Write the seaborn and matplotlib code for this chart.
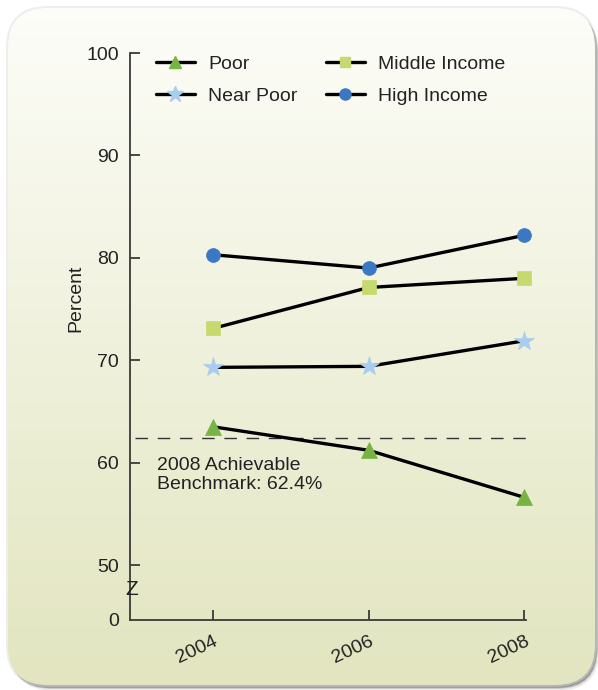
import numpy as np
import pandas as pd
import matplotlib
matplotlib.use("Agg")
import matplotlib.pyplot as plt
from matplotlib.patches import FancyBboxPatch
from matplotlib.lines import Line2D
import seaborn as sns

# ---- data -------------------------------------------------------------
years = [2004, 2006, 2008]
poor = [63.5, 61.2, 56.6]
near_poor = [69.3, 69.4, 71.9]
middle_income = [73.1, 77.1, 78.0]
high_income = [80.3, 79.0, 82.2]
series_names = ["Poor", "Near Poor", "Middle Income", "High Income"]
benchmark = 62.4
benchmark_label = "2008 Achievable\nBenchmark: 62.4%"
y_ticks = [50, 60, 70, 80, 90, 100]
x_ticks = [2004, 2006, 2008]

# ---- styles -----------------------------------------------------------
styles = {
    "Poor": dict(marker="^", color="#78b443", ms=11),
    "Near Poor": dict(marker="*", color="#a9cdee", ms=15),
    "Middle Income": dict(marker="s", color="#c6d96e", ms=9.5),
    "High Income": dict(marker="o", color="#3b78c4", ms=10),
}
FS = 14

frames = []
for name, vals in zip(series_names, [poor, near_poor, middle_income, high_income]):
    frames.append(pd.DataFrame({"year": years, "pct": vals, "group": name}))
df = pd.concat(frames, ignore_index=True)

sns.set_theme(style="white")
plt.rcParams["font.family"] = ["Liberation Sans", "DejaVu Sans"]
plt.rcParams["text.color"] = "#222222"

W, H = 598, 690
fig = plt.figure(figsize=(W / 100, H / 100), dpi=100, facecolor="white")

# ---- rounded panel with gradient and drop shadow ----------------------
bg = fig.add_axes([0, 0, 1, 1], zorder=0)
bg.set_xlim(0, W)
bg.set_ylim(H, 0)
bg.axis("off")

px0, py0, px1, py1, rad = 8, 8, 595, 685, 40
for off, alpha in [(7, 0.10), (5, 0.18), (4, 0.30), (3, 0.35)]:
    sh = FancyBboxPatch((px0 + off * 0.6, py0 + off * 0.8),
                        px1 - px0, py1 - py0,
                        boxstyle=f"round,pad=0,rounding_size={rad}",
                        fc="#555555", ec="none", alpha=alpha, zorder=1)
    bg.add_patch(sh)
halo = FancyBboxPatch((px0 - 2, py0 - 2), px1 - px0 + 4, py1 - py0 + 4,
                      boxstyle=f"round,pad=0,rounding_size={rad + 2}",
                      fc="#dddddd", ec="none", alpha=0.5, zorder=1)
bg.add_patch(halo)

panel = FancyBboxPatch((px0, py0), px1 - px0, py1 - py0,
                       boxstyle=f"round,pad=0,rounding_size={rad}",
                       fc="none", ec="none", zorder=2)
bg.add_patch(panel)
top_c = np.array([253, 253, 249]) / 255
bot_c = np.array([226, 229, 191]) / 255
t = np.linspace(0, 1, 256)[:, None, None]
grad = top_c * (1 - t) + bot_c * t
grad = np.repeat(grad, 4, axis=1)
im = bg.imshow(grad, extent=[px0, px1, py1, py0], aspect="auto", zorder=3,
               interpolation="bilinear")
im.set_clip_path(panel)

# ---- main chart axes --------------------------------------------------
ax_left, ax_right, ax_top, ax_bot = 130, 526, 53, 620
ax = fig.add_axes([ax_left / W, 1 - ax_bot / H,
                   (ax_right - ax_left) / W, (ax_bot - ax_top) / H], zorder=5)
ax.patch.set_alpha(0)

y_zero_pos = 50 - (ax_bot - 565) / 10.24   # axis origin below the break
ax.set_ylim(y_zero_pos, 100)
ax.set_xlim(2004 - (213 - ax_left) / 78, 2008.02)

for name in series_names:
    st = styles[name]
    sub = df[df["group"] == name]
    sns.lineplot(data=sub, x="year", y="pct", ax=ax, color="black",
                 linewidth=2.4, marker=st["marker"], markersize=st["ms"],
                 markerfacecolor=st["color"], markeredgecolor=st["color"],
                 markeredgewidth=0.5, legend=False, zorder=4, clip_on=False)

ax.axhline(benchmark, xmin=0.012, color="#333333", linewidth=1.0,
           dashes=(9, 7), zorder=2)
ax.text(0.068, 60.5, benchmark_label, transform=ax.get_yaxis_transform(),
        ha="left", va="top", fontsize=FS, linespacing=1.1, color="#222222")

# axes styling
for side in ["top", "right"]:
    ax.spines[side].set_visible(False)
for side in ["left", "bottom"]:
    ax.spines[side].set_color("#3a3a3a")
    ax.spines[side].set_linewidth(1.3)

ax.set_yticks([y_zero_pos] + y_ticks)
ax.set_yticklabels(["0"] + [str(v) for v in y_ticks])
ax.set_xticks(x_ticks)
ax.set_xticklabels([str(v) for v in x_ticks])
ax.tick_params(axis="both", direction="in", length=7, width=1.3,
               color="#3a3a3a", labelsize=FS, labelcolor="#222222")
ax.tick_params(axis="y", pad=8, left=True)
ax.tick_params(axis="x", pad=9, bottom=True)
ax.yaxis.get_major_ticks()[0].tick1line.set_visible(False)
for lbl in ax.get_xticklabels():
    lbl.set_rotation(25)
    lbl.set_ha("right")
    lbl.set_va("top")
    lbl.set_rotation_mode("anchor")

ax.set_xlabel("")
ax.set_ylabel("Percent", fontsize=FS, color="#222222")
ax.yaxis.set_label_coords(-0.115, 0.568)

# axis break mark on the y spine
ax.text(0.005, 0.053, "Z", transform=ax.transAxes, ha="center", va="center",
        fontsize=15, color="#222222", zorder=6)

# legend
handles = []
for name in series_names:
    st = styles[name]
    handles.append(Line2D([0], [0], color="black", linewidth=2.4,
                          marker=st["marker"], markersize=st["ms"] * 0.8,
                          markerfacecolor=st["color"],
                          markeredgecolor=st["color"], label=name))
ax.legend(handles=handles, ncol=2, frameon=False, loc="upper left",
          bbox_to_anchor=(0.065, 0.996), fontsize=FS, handlelength=2.0,
          handletextpad=0.7, columnspacing=1.45, labelspacing=0.75,
          borderpad=0, borderaxespad=0)

fig.savefig("out.png", dpi=100, facecolor="white")
